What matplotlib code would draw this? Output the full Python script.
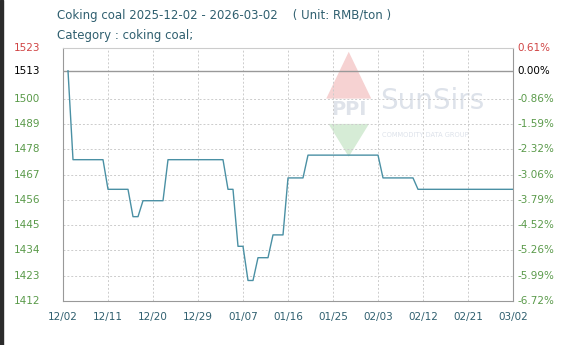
import matplotlib
matplotlib.use("Agg")
import matplotlib.pyplot as plt
import matplotlib.dates as mdates
import numpy as np
import pandas as pd

# price change points (RMB/ton)
dates = ['2025-12-03', '2025-12-04', '2025-12-10', '2025-12-11', '2025-12-15',
         '2025-12-16', '2025-12-17', '2025-12-18', '2025-12-22', '2025-12-23',
         '2026-01-03', '2026-01-04', '2026-01-05', '2026-01-06', '2026-01-07',
         '2026-01-08', '2026-01-09', '2026-01-10', '2026-01-12', '2026-01-13',
         '2026-01-15', '2026-01-16', '2026-01-19', '2026-01-20', '2026-02-03',
         '2026-02-04', '2026-02-10', '2026-02-11', '2026-03-02']
prices = [1513, 1474, 1474, 1461, 1461,
          1449, 1449, 1456, 1456, 1474,
          1474, 1461, 1461, 1436, 1436,
          1421, 1421, 1431, 1431, 1441,
          1441, 1466, 1466, 1476, 1476,
          1466, 1466, 1461, 1461]

base_price = 1513
y_min, y_max = 1412, 1523
left_labels = ['1412', '1423', '1434', '1445', '1456', '1467', '1478', '1489', '1500', '', '1523']
right_labels = ['-6.72%', '-5.99%', '-5.26%', '-4.52%', '-3.79%', '-3.06%', '-2.32%', '-1.59%', '-0.86%', '', '0.61%']
x_start, x_end = '2025-12-02', '2026-03-02'

txt = '#2f5f6f'
green = '#5a9a4a'
red = '#d04444'

fig = plt.figure(figsize=(5.83, 3.45), dpi=100)
fig.patch.set_facecolor('white')
ax = fig.add_axes([63/583, 44/345, 450/583, 253/345])

x = pd.to_datetime(dates)
ax.plot(x, prices, color='#4a90a4', lw=1.0, zorder=3)
ax.axhline(base_price, color='#999999', lw=1.0, zorder=2)

ax.set_xlim(pd.Timestamp(x_start), pd.Timestamp(x_end))
ax.set_ylim(y_min, y_max)
xt = pd.date_range(x_start, x_end, freq='9D')
ax.set_xticks(xt)
ax.xaxis.set_major_formatter(mdates.DateFormatter('%m/%d'))
yt = np.linspace(y_min, y_max, 11)
ax.set_yticks(yt)
ax.set_yticklabels([])
ax.tick_params(axis='both', length=0, labelsize=7.5, colors=txt)
ax.tick_params(axis='x', pad=8)
ax.grid(True, color='#cccccc', ls=(0, (2, 2)), lw=0.7)
# the grid line just under the base line is not drawn in the original
for gl, lab in zip(ax.get_ygridlines(), left_labels):
    if not lab:
        gl.set_visible(False)
for s in ['left', 'bottom', 'right']:
    ax.spines[s].set_color('#999999')
ax.spines['top'].set_color('#cccccc')

# left and right value labels
trans_l = ax.get_yaxis_transform()
for v, lab, rlab in zip(yt, left_labels, right_labels):
    if not lab:
        continue
    c = red if v == y_max else green
    ax.text(-0.05, v, lab, transform=trans_l, ha='right', va='center', fontsize=7.5, color=c)
    ax.text(1.01, v, rlab, transform=trans_l, ha='left', va='center', fontsize=7.5, color=c)
ax.text(-0.05, base_price, str(base_price), transform=trans_l, ha='right', va='center', fontsize=7.5, color='black')
ax.text(1.01, base_price, '0.00%', transform=trans_l, ha='left', va='center', fontsize=7.5, color='black')

# faint watermark logo
ax.fill([0.585, 0.635, 0.685], [0.80, 0.985, 0.80], transform=ax.transAxes, color='#f6d2d2', zorder=1, lw=0)
ax.fill([0.59, 0.635, 0.68], [0.70, 0.57, 0.70], transform=ax.transAxes, color='#d6ecd6', zorder=1, lw=0)
ax.text(0.635, 0.755, 'PPI', transform=ax.transAxes, fontsize=14, color='#dfe3ea', ha='center', va='center',
        zorder=1, fontweight='bold')
ax.text(0.705, 0.79, 'SunSirs', transform=ax.transAxes, fontsize=20, color='#dde2ea', ha='left', va='center', zorder=1)
ax.text(0.708, 0.655, 'COMMODITY DATA GROUP', transform=ax.transAxes, fontsize=4.8, color='#dde2ea', ha='left',
        va='center', zorder=1)

fig.text(57/583, 1 - 15/345, 'Coking coal 2025-12-02 - 2026-03-02    ( Unit: RMB/ton )',
         fontsize=8.5, color=txt, ha='left', va='center')
fig.text(57/583, 1 - 35/345, 'Category : coking coal;', fontsize=8.5, color=txt, ha='left', va='center')

# dark screenshot border on the left
fig.patches.append(plt.Rectangle((0, 0), 3/583, 1, transform=fig.transFigure, color='#2b2b2b', zorder=5))

fig.savefig('out.png', dpi=100)
